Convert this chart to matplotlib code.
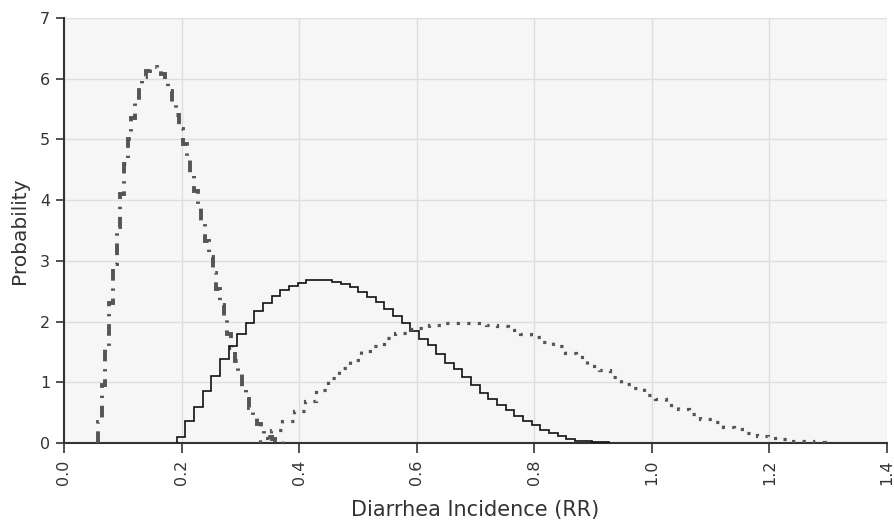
import numpy as np
import matplotlib
matplotlib.use("Agg")
import matplotlib.pyplot as plt

# ---- data ----
# Series A: dash-dot histogram (50 bins)
a_start, a_end = 0.058, 0.372
a_values = [0.35, 0.95, 1.60, 2.30, 2.95, 3.55, 4.10, 4.60, 5.00, 5.35,
            5.65, 5.88, 6.03, 6.12, 6.17, 6.19, 6.16, 6.08, 5.97, 5.80,
            5.60, 5.40, 5.17, 4.93, 4.68, 4.42, 4.15, 3.88, 3.60, 3.33,
            3.07, 2.80, 2.53, 2.27, 2.03, 1.80, 1.57, 1.35, 1.13, 0.93,
            0.73, 0.57, 0.43, 0.31, 0.21, 0.14, 0.10, 0.07, 0.05, 0.03]

# Series B: solid step histogram (50 bins)
b_start, b_end = 0.1915, 0.928
b_values = [0.10, 0.36, 0.59, 0.86, 1.11, 1.39, 1.59, 1.80, 1.98, 2.17,
            2.30, 2.42, 2.52, 2.58, 2.64, 2.68, 2.69, 2.69, 2.66, 2.62,
            2.57, 2.48, 2.41, 2.32, 2.20, 2.09, 1.97, 1.84, 1.72, 1.61,
            1.47, 1.31, 1.22, 1.09, 0.95, 0.83, 0.73, 0.62, 0.54, 0.44,
            0.36, 0.29, 0.22, 0.17, 0.11, 0.07, 0.04, 0.03, 0.02, 0.01]

# Series C: dotted histogram (50 bins)
c_start, c_end = 0.333, 1.294
c_values = [0.08, 0.21, 0.37, 0.52, 0.70, 0.88, 1.07, 1.23, 1.37, 1.52,
            1.60, 1.73, 1.81, 1.88, 1.90, 1.94, 1.97, 1.98, 1.98, 1.98,
            1.95, 1.92, 1.86, 1.79, 1.74, 1.66, 1.59, 1.48, 1.41, 1.27,
            1.20, 1.09, 0.98, 0.90, 0.79, 0.73, 0.62, 0.56, 0.47, 0.40,
            0.34, 0.27, 0.23, 0.16, 0.11, 0.08, 0.06, 0.04, 0.03, 0.01]

x_ticks = [0.0, 0.2, 0.4, 0.6, 0.8, 1.0, 1.2, 1.4]
x_tick_labels = ["0.0", "0.2", "0.4", "0.6", "0.8", "1.0", "1.2", "1.4"]
y_ticks = [0, 1, 2, 3, 4, 5, 6, 7]
x_label = "Diarrhea Incidence (RR)"
y_label = "Probability"

# ---- figure ----
plt.rcParams['font.family'] = ['DejaVu Sans']
fig = plt.figure(figsize=(8.95, 5.22), dpi=100)
fig.patch.set_facecolor("white")
ax = fig.add_axes([0.0715, 0.1513, 0.9195, 0.8142])
ax.set_facecolor("#f6f6f6")

def edges(start, end, vals):
    return np.linspace(start, end, len(vals) + 1)

ax.stairs(a_values, edges(a_start, a_end, a_values), color="#555555",
          linewidth=2.8, linestyle=(0, (3.0, 2.0, 0.6, 2.0)), baseline=0, zorder=3)
ax.stairs(b_values, edges(b_start, b_end, b_values), color="#111111",
          linewidth=1.2, baseline=0, zorder=3)
ax.stairs(c_values, edges(c_start, c_end, c_values), color="#555555",
          linewidth=2.3, linestyle=(0, (1.0, 2.3)), baseline=0, zorder=3)

ax.set_xlim(0, 1.4)
ax.set_ylim(0, 7)
ax.set_xticks(x_ticks)
ax.set_xticklabels(x_tick_labels, rotation=90, fontsize=11.5, color="#333333")
ax.set_yticks(y_ticks)
ax.set_yticklabels([str(v) for v in y_ticks], fontsize=11.5, color="#333333")
ax.grid(True, color="#dedede", linewidth=1.0, zorder=0)
ax.set_axisbelow(True)

for s in ["top", "right"]:
    ax.spines[s].set_visible(False)
for s in ["left", "bottom"]:
    ax.spines[s].set_color("#333333")
    ax.spines[s].set_linewidth(1.5)
ax.tick_params(axis="x", direction="out", length=7, width=1.2, color="#333333", pad=5)
ax.tick_params(axis="y", direction="out", length=6, width=1.2, color="#333333", pad=4)

ax.set_xlabel(x_label, fontsize=15, color="#333333", labelpad=10.5)
ax.set_ylabel(y_label, fontsize=14.5, color="#333333", labelpad=8)

fig.savefig("out.png", dpi=100)
